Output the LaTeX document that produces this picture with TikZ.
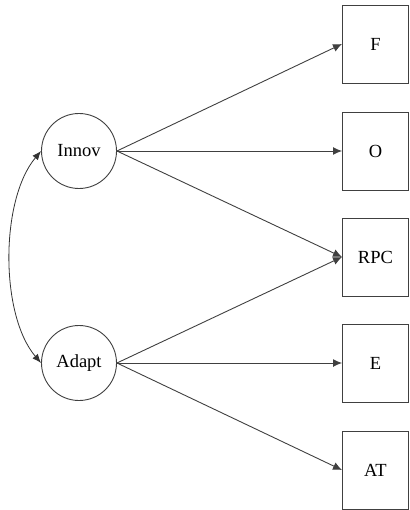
\documentclass[tikz,border=0pt]{standalone}
\usepackage{fontspec}
\setmainfont{Liberation Serif}
\usetikzlibrary{arrows.meta}
\begin{document}
\begin{tikzpicture}[x=1pt,y=-1pt,
  every node/.style={font=\fontsize{18.5}{22}\selectfont},
  latent/.style={draw=black!75,line width=0.9pt,circle,minimum size=75pt,inner sep=0pt},
  observed/.style={draw=black!75,line width=0.9pt,rectangle,minimum width=66pt,minimum height=78pt,inner sep=0pt,anchor=west},
  path/.style={draw=black!75,line width=0.9pt,-{Latex[length=9pt,width=8pt]}},
  cov/.style={draw=black!80,line width=0.8pt,{Latex[length=9pt,width=7pt]}-{Latex[length=9pt,width=7pt]}}]
  \useasboundingbox (0,0) rectangle (409,510);
  % latent factors
  \node[latent] (innov) at (79,151) {Innov};
  \node[latent] (adapt) at (79,363) {Adapt};
  % indicators
  \node[observed] (f)   at (342,44)  {F};
  \node[observed] (o)   at (342,151) {O};
  \node[observed] (rpc) at (342,257) {RPC};
  \node[observed] (e)   at (342,363) {E};
  \node[observed] (at)  at (342,470) {AT};
  % loadings
  \draw[path] (innov.east) -- (f.west);
  \draw[path] (innov.east) -- (o.west);
  \draw[path] (innov.east) -- (rpc.west);
  \draw[path] (adapt.east) -- (rpc.west);
  \draw[path] (adapt.east) -- (e.west);
  \draw[path] (adapt.east) -- (at.west);
  % factor covariance
  \draw[cov] (innov.west) .. controls (0,200) and (0,315) .. (adapt.west);
\end{tikzpicture}
\end{document}
